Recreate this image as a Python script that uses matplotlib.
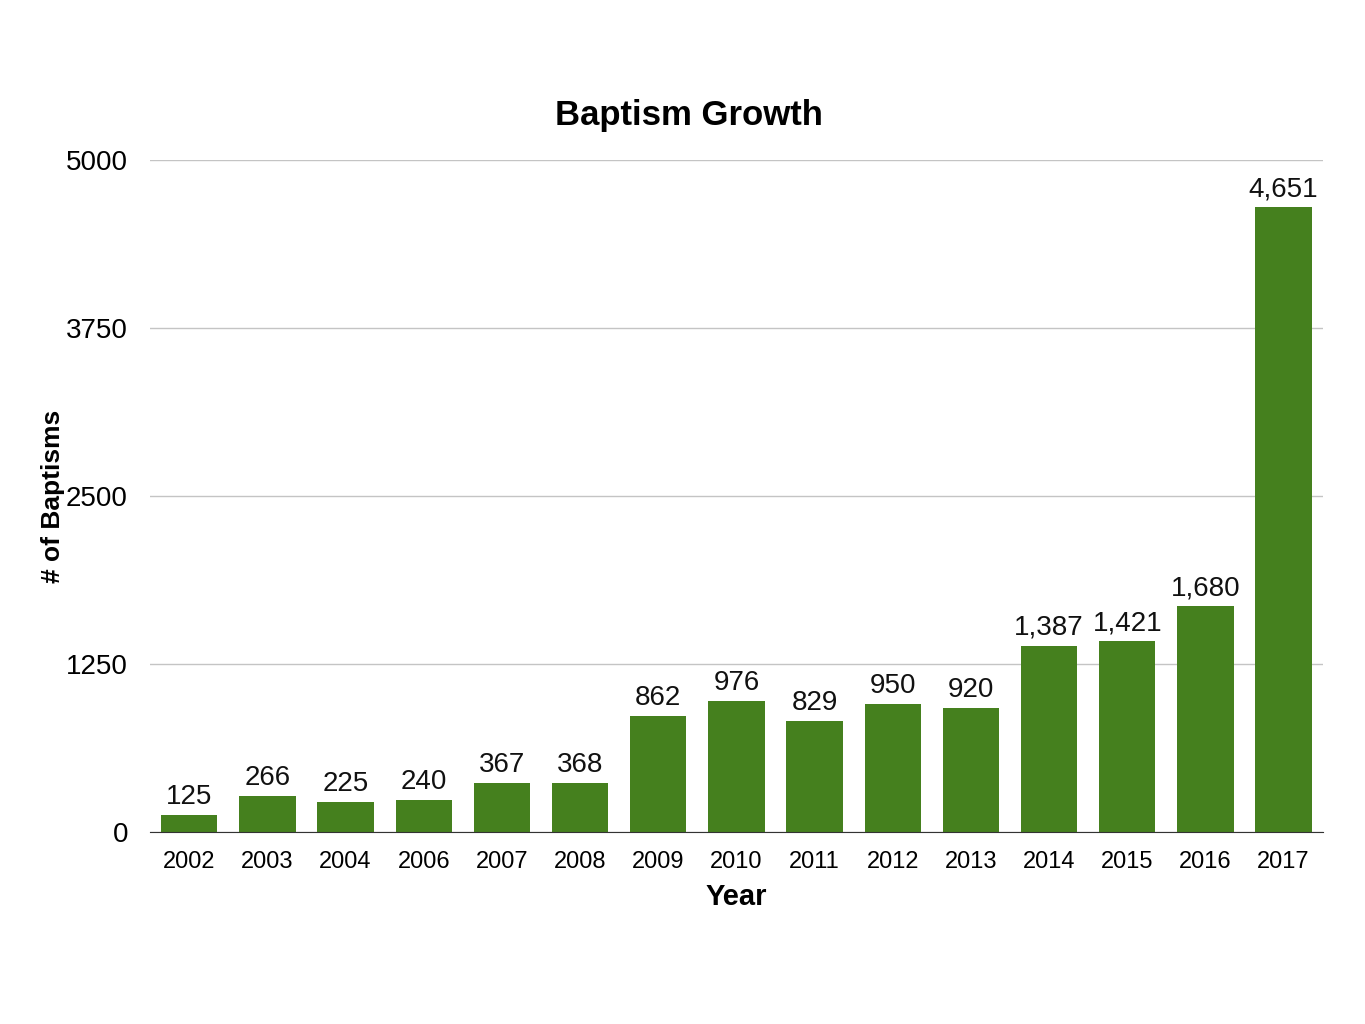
import matplotlib.pyplot as plt

plt.rcParams["font.family"] = ["Liberation Sans", "DejaVu Sans"]

# Data
years = ["2002", "2003", "2004", "2006", "2007", "2008", "2009", "2010",
         "2011", "2012", "2013", "2014", "2015", "2016", "2017"]
baptisms = [125, 266, 225, 240, 367, 368, 862, 976,
            829, 950, 920, 1387, 1421, 1680, 4651]
y_ticks = [0, 1250, 2500, 3750, 5000]

fig = plt.figure(figsize=(13.65, 10.24), dpi=100)
ax = fig.add_axes([0.110, 0.1875, 0.859, 0.65625])

x = range(len(years))
bars = ax.bar(x, baptisms, width=0.72, color="#45801e", zorder=3)

# Value labels above bars
for rect, val in zip(bars, baptisms):
    ax.annotate(f"{val:,}", (rect.get_x() + rect.get_width() / 2, rect.get_height()),
                xytext=(0, 3.5), textcoords="offset points",
                ha="center", va="bottom", fontsize=20, color="#111111")

ax.set_xlim(-0.5, len(years) - 0.5)
ax.set_ylim(0, 5000)
ax.set_yticks(y_ticks)
ax.set_yticklabels([str(t) for t in y_ticks], fontsize=20)
ax.set_xticks(list(x))
ax.set_xticklabels(years, fontsize=17)
ax.tick_params(length=0)
ax.tick_params(axis="x", pad=14)
ax.tick_params(axis="y", pad=16)

ax.grid(axis="y", color="#c4c4c4", linewidth=1, zorder=0)
for side in ["top", "right", "left"]:
    ax.spines[side].set_visible(False)
ax.spines["bottom"].set_color("#333333")
ax.spines["bottom"].set_zorder(4)

fig.text(0.505, 0.887, "Baptism Growth", fontsize=25, fontweight="bold",
         ha="center", va="center")
ax.set_xlabel("Year", fontsize=21, fontweight="bold", labelpad=7)
ax.set_ylabel("# of Baptisms", fontsize=19, fontweight="bold", labelpad=1)

fig.savefig("out.png", dpi=100)
